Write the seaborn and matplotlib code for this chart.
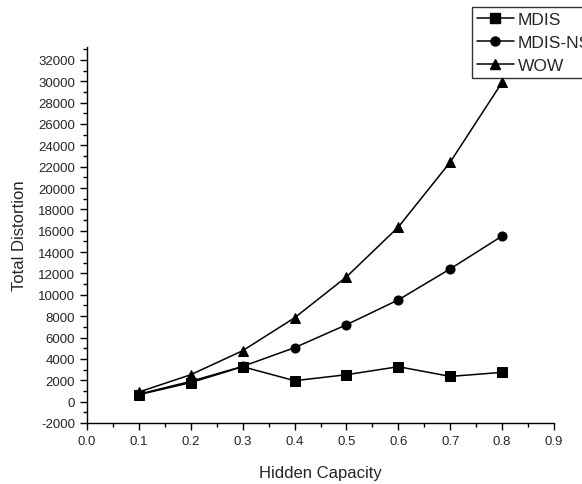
import matplotlib
matplotlib.use("Agg")
import matplotlib.pyplot as plt
import seaborn as sns
import pandas as pd
from matplotlib.ticker import MultipleLocator
from matplotlib.lines import Line2D

capacity = [0.1, 0.2, 0.3, 0.4, 0.5, 0.6, 0.7, 0.8]
mdis = [650, 1780, 3270, 1960, 2520, 3270, 2360, 2740]
mdis_ns = [700, 1900, 3300, 5050, 7200, 9530, 12430, 15510]
wow = [900, 2520, 4770, 7850, 11680, 16350, 22430, 29900]
series_names = ["MDIS", "MDIS-NS", "WOW"]
markers = ["s", "o", "^"]
x_ticks = [0.0, 0.1, 0.2, 0.3, 0.4, 0.5, 0.6, 0.7, 0.8, 0.9]
y_ticks = list(range(-2000, 32001, 2000))

rows = []
for name, vals in zip(series_names, [mdis, mdis_ns, wow]):
    for x, v in zip(capacity, vals):
        rows.append({"Hidden Capacity": x, "Total Distortion": v, "Method": name})
df = pd.DataFrame(rows)

sns.set_style("white")
plt.rcParams['font.family'] = ['Liberation Sans', 'DejaVu Sans']

fig = plt.figure(figsize=(5.82, 4.85), dpi=100)
ax = fig.add_axes([0.1495, 0.1258, 0.8025, 0.7752])

sns.lineplot(data=df, x="Hidden Capacity", y="Total Distortion", hue="Method",
             style="Method", markers=dict(zip(series_names, markers)), dashes=False,
             palette=["black"] * 3, markersize=6.5, linewidth=1.1, ax=ax,
             markeredgecolor="black", legend=False)

ax.set_xticks(x_ticks)
ax.set_xticklabels([f"{t:.1f}" for t in x_ticks])
ax.set_yticks(y_ticks)
ax.set_yticklabels([str(v) for v in y_ticks])
ax.xaxis.set_minor_locator(MultipleLocator(0.05))
ax.yaxis.set_minor_locator(MultipleLocator(1000))
ax.set_xlim(0.0, 0.9)
ax.set_ylim(-2000, 33200)
ax.tick_params(axis='both', which='major', direction='out', length=5, width=1,
               labelsize=9.5, bottom=True, left=True, color='black')
ax.tick_params(axis='both', which='minor', direction='out', length=3, width=1,
               bottom=True, left=True, color='black')

for s in ["top", "right"]:
    ax.spines[s].set_visible(False)
for s in ["left", "bottom"]:
    ax.spines[s].set_color("black")
    ax.spines[s].set_linewidth(1)

ax.set_xlabel("Hidden Capacity", fontsize=12, labelpad=13)
ax.set_ylabel("Total Distortion", fontsize=12, labelpad=8)

handles = [Line2D([], [], color="black", marker=m, markersize=6.5, linewidth=1.1)
           for m in markers]
leg = fig.legend(handles, series_names, loc="upper left",
                 bbox_to_anchor=(0.811, 0.984), frameon=True, fontsize=12.5,
                 fancybox=False, edgecolor="black", handlelength=2.1,
                 borderpad=0.3, labelspacing=0.45, handletextpad=0.25,
                 borderaxespad=0)
leg.get_frame().set_linewidth(1)

fig.savefig("out.png", dpi=100)
